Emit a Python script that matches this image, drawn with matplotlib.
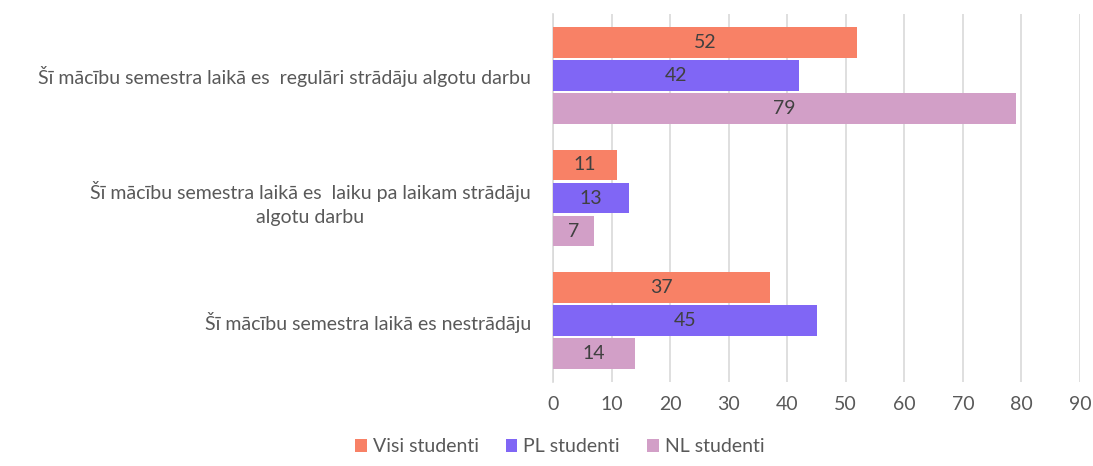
import matplotlib.pyplot as plt
import numpy as np

plt.rcParams['font.family'] = ['Lato', 'DejaVu Sans']

categories = [
    "Šī mācību semestra laikā es  regulāri strādāju algotu darbu",
    "Šī mācību semestra laikā es  laiku pa laikam strādāju\nalgotu darbu",
    "Šī mācību semestra laikā es nestrādāju",
]
series_names = ["Visi studenti", "PL studenti", "NL studenti"]
visi = [52, 11, 37]
pl = [42, 13, 45]
nl = [79, 7, 14]
colors = ["#F88166", "#8066F5", "#D29FC7"]

fig = plt.figure(figsize=(10.93, 4.66), dpi=100)
ax = fig.add_axes([553 / 1093, 1 - 382 / 466, (1080 - 553) / 1093, (382 - 14) / 466])

y = np.arange(len(categories))
h = 0.25
offsets = [-0.27, 0, 0.27]
for vals, name, col, off in zip([visi, pl, nl], series_names, colors, offsets):
    bars = ax.barh(y + off, vals, height=h, color=col, label=name, zorder=3)
    ax.bar_label(bars, labels=[str(v) for v in vals], label_type='center',
                 color='#404040', fontsize=14)

ax.set_xlim(0, 90)
ax.set_ylim(2.5, -0.5)
ax.set_xticks(range(0, 91, 10))
ax.set_yticks(y)
ax.set_yticklabels(categories, fontsize=14, color='#595959', ha='right',
                   multialignment='center', linespacing=1.5)
ax.tick_params(axis='y', length=0, pad=16)
ax.tick_params(axis='x', length=0, labelsize=14, labelcolor='#595959', pad=10)
ax.grid(axis='x', color='#D9D9D9', linewidth=1.2, zorder=0)
for s in ['top', 'right', 'bottom']:
    ax.spines[s].set_visible(False)
ax.spines['left'].set_color('#D9D9D9')
ax.spines['left'].set_linewidth(1.2)

fig.legend(loc='lower center', ncol=3, frameon=False, fontsize=14,
           bbox_to_anchor=(0.512, -0.015), handlelength=0.6, handleheight=0.6,
           handletextpad=0.3, columnspacing=1.4, labelcolor='#595959')

fig.savefig("out.png", dpi=100)
